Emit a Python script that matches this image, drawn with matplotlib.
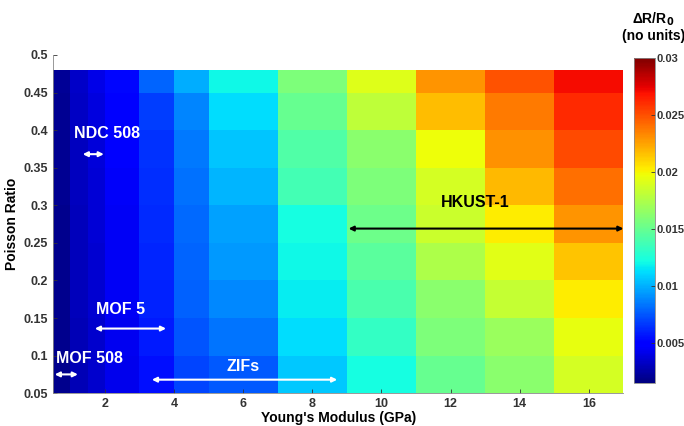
import matplotlib
matplotlib.use('Agg')
import matplotlib.pyplot as plt
import numpy as np

plt.rcParams['font.family'] = ['Liberation Sans', 'DejaVu Sans']
plt.rcParams['font.weight'] = 'bold'

# --- DATA ---
# cell edges (Young's modulus, GPa) and (Poisson ratio)
modulus_edges = [0.5, 1, 1.5, 2, 3, 4, 5, 7, 9, 11, 13, 15, 17]
poisson_edges = [0.05, 0.1, 0.15, 0.2, 0.25, 0.3, 0.35, 0.4, 0.45, 0.48]

# dR/R0 per modulus column, rows from low to high Poisson ratio
col_01 = [0.0019, 0.0019, 0.0019, 0.0019, 0.0019, 0.0020, 0.0020, 0.0020, 0.0021]
col_02 = [0.0029, 0.0029, 0.0030, 0.0030, 0.0030, 0.0031, 0.0031, 0.0032, 0.0033]
col_03 = [0.0035, 0.0035, 0.0036, 0.0036, 0.0037, 0.0037, 0.0038, 0.0039, 0.0041]
col_04 = [0.0042, 0.0043, 0.0044, 0.0044, 0.0045, 0.0046, 0.0047, 0.0048, 0.0052]
col_05 = [0.0055, 0.0058, 0.0060, 0.0061, 0.0062, 0.0063, 0.0065, 0.0068, 0.0079]
col_06 = [0.0070, 0.0075, 0.0078, 0.0079, 0.0080, 0.0082, 0.0085, 0.0088, 0.0099]
col_07 = [0.0076, 0.0083, 0.0089, 0.0093, 0.0096, 0.0101, 0.0106, 0.0112, 0.0120]
col_08 = [0.0107, 0.0112, 0.0117, 0.0120, 0.0122, 0.0138, 0.0143, 0.0150, 0.0158]
col_09 = [0.0122, 0.0133, 0.0140, 0.0146, 0.0152, 0.0158, 0.0163, 0.0180, 0.0192]
col_10 = [0.0150, 0.0158, 0.0163, 0.0175, 0.0185, 0.0188, 0.0197, 0.0217, 0.0229]
col_11 = [0.0163, 0.0168, 0.0183, 0.0193, 0.0203, 0.0218, 0.0230, 0.0237, 0.0249]
col_12 = [0.0188, 0.0195, 0.0203, 0.0215, 0.0229, 0.0240, 0.0252, 0.0262, 0.0270]

VMIN, VMAX = 0.0015, 0.03

# materials: (label, x_from, x_to, arrow_y, text_x, text_y, colour)
materials = [
    ('NDC 508', 1.36, 1.97, 0.368, 2.05, 0.395, 'white'),
    ('MOF 5', 1.71, 3.77, 0.136, 2.45, 0.162, 'white'),
    ('MOF 508', 0.55, 1.22, 0.075, 1.55, 0.096, 'white'),
    ('ZIFs', 3.36, 8.72, 0.068, 6.0, 0.086, 'white'),
    ('HKUST-1', 9.05, 17.0, 0.269, 12.7, 0.304, 'black'),
]

grid = np.array([col_01, col_02, col_03, col_04, col_05, col_06,
                 col_07, col_08, col_09, col_10, col_11, col_12]).T

fig = plt.figure(figsize=(6.84, 4.26), dpi=100)
ax = fig.add_axes([0.0775, 0.077, 0.834, 0.794])
cax = fig.add_axes([0.927, 0.101, 0.031, 0.763])

mesh = ax.pcolormesh(modulus_edges, poisson_edges, grid, cmap='jet',
                     vmin=VMIN, vmax=VMAX, shading='flat')

ax.set_xlim(0.5, 17)
ax.set_ylim(0.05, 0.5)
ax.set_xticks([2, 4, 6, 8, 10, 12, 14, 16])
ax.set_yticks([0.05, 0.1, 0.15, 0.2, 0.25, 0.3, 0.35, 0.4, 0.45, 0.5])
ax.set_yticklabels(['0.05', '0.1', '0.15', '0.2', '0.25', '0.3', '0.35', '0.4', '0.45', '0.5'])
ax.tick_params(direction='in', length=3, labelsize=9, colors='#333333', width=0.6)
for lbl in ax.get_xticklabels() + ax.get_yticklabels():
    lbl.set_fontweight('bold')
for side in ['top', 'right']:
    ax.spines[side].set_visible(False)
for side in ['left', 'bottom']:
    ax.spines[side].set_color('#888888')
    ax.spines[side].set_linewidth(0.6)

ax.set_xlabel("Young's Modulus (GPa)", fontsize=10, fontweight='bold', labelpad=1)
ax.set_ylabel('Poisson Ratio', fontsize=10, fontweight='bold', labelpad=3)

for name, x0, x1, ya, tx, ty, col in materials:
    ax.annotate('', xy=(x1, ya), xytext=(x0, ya),
                arrowprops=dict(arrowstyle='<|-|>', color=col, lw=1.5,
                                mutation_scale=7, shrinkA=0, shrinkB=0))
    ax.text(tx, ty, name, color=col, fontsize=11.5, fontweight='bold',
            ha='center', va='center')

cb = fig.colorbar(mesh, cax=cax)
cb.set_ticks([0.005, 0.01, 0.015, 0.02, 0.025, 0.03])
cb.set_ticklabels(['0.005', '0.01', '0.015', '0.02', '0.025', '0.03'])
cb.ax.tick_params(labelsize=8, length=3, width=0.6, colors='#333333',
                  direction='in', pad=1)
for lbl in cb.ax.get_yticklabels():
    lbl.set_fontweight('bold')
cb.outline.set_edgecolor('#888888')
cb.outline.set_linewidth(0.6)

fig.text(0.955, 0.937, 'ΔR/R$_\\mathbf{0}$\n(no units)', ha='center', va='center',
         fontsize=10, fontweight='bold', linespacing=1.05)

fig.savefig('out.png', dpi=100)
